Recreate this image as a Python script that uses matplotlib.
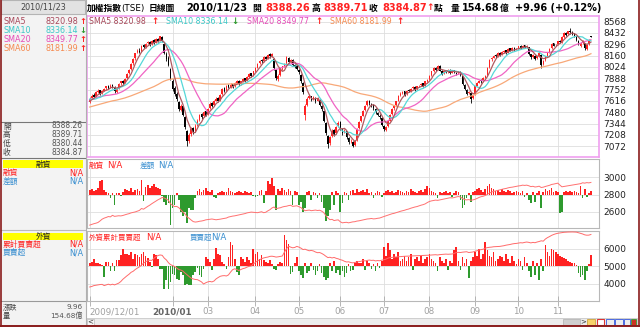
import numpy as np
import pandas as pd
import matplotlib
matplotlib.use('Agg')
import matplotlib.pyplot as plt
from matplotlib.patches import Rectangle

plt.rcParams['font.family'] = ['DejaVu Sans', 'Noto Sans CJK TC']

# ---------------- data ----------------
# closes before 2009/12/01, only used to warm up the moving averages
prior_closes = [7230, 7260, 7210, 7280, 7320, 7300, 7350, 7380, 7360, 7400, 7430, 7410, 7460, 7480, 7450, 7500, 7470, 7420, 7450, 7480,
                7510, 7560, 7590, 7620, 7600, 7650, 7680, 7700, 7720, 7690, 7710, 7680, 7600, 7550, 7520, 7480, 7500, 7540, 7580, 7560, 7520,
                7500, 7470, 7530, 7580, 7620, 7660, 7640, 7700, 7740, 7720, 7680, 7700, 7660, 7620, 7650, 7600, 7580, 7610, 7630]

opens = [
    7600, 7650, 7690, 7670, 7725, 7745, 7705, 7740, 7765, 7795, 7775, 7805, 7780, 7725, 7765, 7825, 7855, 7835, 7885, 7945, 7995, 8065, 8125,
    8200, 8220, 8210, 8285, 8265, 8305, 8325, 8295, 8345, 8315, 8360, 8335, 8380, 8300, 8180, 8130, 8000, 7850, 7770, 7700,
    7600, 7510, 7550, 7420, 7260, 7140, 7220, 7290, 7250, 7330, 7390, 7460, 7430, 7490,
    7460, 7530, 7590, 7570, 7620, 7650, 7630, 7700, 7770, 7750, 7810, 7785, 7815, 7795, 7835, 7855, 7825, 7855, 7885, 7865, 7905, 7945, 7925,
    7975, 8015, 8065, 8105, 8095, 8145, 8125, 8175, 8155, 8120, 7990, 7880, 7930, 8005, 8035, 8070, 8130, 8085, 8105, 8045, 8030,
    7990, 7930, 7830, 7450, 7570, 7650, 7670, 7640, 7650, 7620, 7630, 7560, 7490, 7350, 7200, 7110, 7190, 7270, 7230, 7310,
    7360, 7280, 7240, 7250, 7170, 7130, 7120, 7090, 7150, 7290, 7370, 7440, 7510, 7570, 7620, 7580, 7570, 7520, 7470, 7440, 7410,
    7320, 7270, 7310, 7380, 7460, 7530, 7570, 7620, 7690, 7710, 7730, 7700, 7745, 7735, 7765, 7785, 7755, 7795, 7805, 7825, 7795, 7855,
    7875, 7925, 7975, 8015, 7995, 8035, 7975, 7945, 7975, 7965, 7985, 7955, 7985, 7955, 7945, 7965, 7910, 7810, 7750, 7705, 7710, 7650,
    7700, 7800, 7835, 7865, 7855, 7895, 7930, 8020, 8115, 8135, 8165, 8155, 8195, 8175, 8205, 8225, 8195, 8245, 8225, 8255, 8235,
    8250, 8275, 8255, 8285, 8265, 8260, 8175, 8145, 8160, 8125, 8155, 8170, 8060, 8105, 8155, 8195, 8245, 8305, 8285,
    8300, 8335, 8325, 8385, 8435, 8415, 8455, 8445, 8425, 8395, 8340, 8280, 8305, 8310, 8240, 8295, 8388.26]

highs = [
    7660, 7700, 7705, 7730, 7760, 7750, 7745, 7775, 7800, 7805, 7815, 7820, 7790, 7770, 7830, 7860, 7865, 7890, 7950, 8000, 8070, 8130, 8195,
    8240, 8250, 8290, 8300, 8310, 8340, 8330, 8350, 8360, 8365, 8370, 8400, 8390, 8310, 8200, 8150, 8010, 7880, 7790, 7720,
    7610, 7580, 7560, 7430, 7270, 7230, 7300, 7300, 7340, 7400, 7460, 7470, 7500, 7500,
    7530, 7600, 7600, 7630, 7660, 7660, 7700, 7770, 7780, 7810, 7815, 7825, 7820, 7840, 7870, 7865, 7860, 7890, 7895, 7910, 7950, 7955, 7980,
    8020, 8070, 8110, 8120, 8150, 8155, 8180, 8185, 8195, 8130, 8000, 7940, 8010, 8040, 8070, 8160, 8140, 8120, 8115, 8060, 8040,
    8000, 7940, 7840, 7580, 7660, 7700, 7680, 7680, 7660, 7660, 7640, 7570, 7500, 7360, 7210, 7200, 7280, 7280, 7320, 7370,
    7370, 7290, 7280, 7260, 7180, 7160, 7130, 7150, 7290, 7370, 7440, 7510, 7570, 7630, 7630, 7590, 7580, 7530, 7480, 7460, 7420,
    7330, 7320, 7380, 7460, 7530, 7570, 7620, 7690, 7720, 7740, 7740, 7750, 7760, 7770, 7790, 7790, 7800, 7810, 7830, 7830, 7860, 7880,
    7930, 7980, 8020, 8025, 8050, 8045, 7985, 7980, 7985, 8000, 7995, 7990, 7990, 7965, 7980, 7975, 7920, 7820, 7760, 7740, 7720, 7690,
    7800, 7840, 7870, 7875, 7900, 7930, 8020, 8120, 8140, 8170, 8175, 8200, 8205, 8210, 8230, 8230, 8250, 8255, 8260, 8260, 8250,
    8280, 8285, 8290, 8290, 8285, 8265, 8180, 8180, 8165, 8160, 8200, 8175, 8110, 8160, 8200, 8250, 8310, 8315, 8300,
    8340, 8345, 8390, 8440, 8445, 8460, 8490, 8460, 8430, 8400, 8345, 8320, 8345, 8315, 8300, 8360, 8389.71]

lows = [
    7590, 7640, 7650, 7660, 7710, 7690, 7695, 7730, 7750, 7760, 7765, 7770, 7715, 7710, 7755, 7810, 7820, 7825, 7880, 7935, 7990, 8050, 8110,
    8185, 8190, 8200, 8250, 8255, 8295, 8270, 8285, 8300, 8305, 8320, 8330, 8320, 8180, 8100, 8040, 7870, 7740, 7680, 7620,
    7500, 7490, 7430, 7280, 7080, 7110, 7200, 7220, 7240, 7320, 7380, 7400, 7420, 7430,
    7450, 7520, 7540, 7560, 7610, 7600, 7620, 7690, 7720, 7740, 7765, 7770, 7770, 7785, 7825, 7800, 7810, 7840, 7845, 7855, 7895, 7905, 7915,
    7965, 8005, 8055, 8075, 8085, 8105, 8115, 8135, 8145, 7990, 7870, 7860, 7920, 7990, 8025, 8060, 8070, 8075, 8040, 8010, 7990,
    7940, 7830, 7700, 7390, 7560, 7640, 7610, 7630, 7590, 7610, 7550, 7500, 7360, 7210, 7050, 7090, 7180, 7200, 7220, 7300,
    7270, 7210, 7230, 7160, 7100, 7110, 7060, 7070, 7140, 7280, 7360, 7430, 7500, 7560, 7570, 7540, 7510, 7460, 7430, 7400, 7310,
    7250, 7260, 7300, 7370, 7450, 7510, 7560, 7610, 7680, 7700, 7680, 7690, 7720, 7725, 7755, 7740, 7745, 7785, 7795, 7780, 7785, 7845,
    7865, 7915, 7965, 7980, 7985, 7970, 7930, 7935, 7950, 7955, 7940, 7945, 7950, 7930, 7935, 7920, 7810, 7750, 7690, 7695, 7590, 7640,
    7690, 7790, 7825, 7835, 7845, 7885, 7920, 8010, 8100, 8125, 8135, 8145, 8160, 8165, 8195, 8180, 8185, 8210, 8215, 8220, 8225,
    8240, 8240, 8245, 8250, 8255, 8170, 8120, 8135, 8110, 8115, 8145, 8010, 8050, 8095, 8145, 8185, 8235, 8270, 8275,
    8290, 8310, 8315, 8375, 8400, 8405, 8420, 8410, 8380, 8340, 8290, 8260, 8295, 8230, 8230, 8285, 8380.44]

closes = [
    7640, 7680, 7665, 7720, 7740, 7700, 7735, 7760, 7790, 7770, 7800, 7785, 7730, 7760, 7820, 7850, 7830, 7880, 7940, 7990, 8060, 8120, 8190,
    8210, 8205, 8280, 8260, 8300, 8320, 8290, 8340, 8310, 8355, 8330, 8390, 8330, 8190, 8120, 8050, 7880, 7760, 7700, 7640,
    7520, 7560, 7450, 7300, 7130, 7210, 7280, 7240, 7320, 7380, 7450, 7420, 7480, 7440,
    7520, 7580, 7560, 7610, 7640, 7620, 7690, 7760, 7740, 7800, 7780, 7810, 7790, 7830, 7860, 7820, 7850, 7880, 7860, 7900, 7940, 7920, 7970,
    8010, 8060, 8100, 8090, 8140, 8120, 8170, 8150, 8180, 8010, 7890, 7920, 8000, 8030, 8060, 8140, 8080, 8110, 8050, 8020, 8000,
    7960, 7850, 7720, 7560, 7640, 7680, 7630, 7660, 7610, 7640, 7570, 7520, 7380, 7230, 7100, 7180, 7260, 7220, 7300, 7350,
    7290, 7230, 7260, 7180, 7120, 7140, 7080, 7130, 7280, 7360, 7430, 7500, 7560, 7610, 7590, 7560, 7530, 7480, 7450, 7420, 7330,
    7280, 7300, 7370, 7450, 7520, 7560, 7610, 7680, 7700, 7720, 7690, 7740, 7730, 7760, 7780, 7750, 7790, 7800, 7820, 7790, 7850, 7870,
    7920, 7970, 8010, 7990, 8040, 7980, 7940, 7970, 7960, 7990, 7950, 7980, 7960, 7940, 7970, 7930, 7820, 7760, 7700, 7720, 7640, 7680,
    7790, 7830, 7860, 7850, 7890, 7920, 8010, 8110, 8130, 8160, 8150, 8190, 8170, 8200, 8220, 8190, 8240, 8220, 8250, 8230, 8240,
    8270, 8250, 8280, 8260, 8270, 8180, 8140, 8170, 8120, 8150, 8190, 8050, 8100, 8150, 8190, 8240, 8300, 8280, 8290,
    8330, 8320, 8380, 8430, 8410, 8450, 8440, 8420, 8390, 8350, 8300, 8300, 8330, 8250, 8290, 8350, 8384.87]

# 融資 差額 (bar height, axis units around the 2800 base) and 融資 line
margin_diff = [
    50, 60, 40, 55, 70, 160, 170, 50, 30, 20, -40, 20, -120, 15, 20, -15, 30, 60, 50, 40, 70, 30, 50, 60, 40,
    170, -70, 90, 110, 80, 100, 120, 90, 80, 60, -20, -80, -120, -100, -350, -150, -120, 20, -60, -200, -250, -200, -330, -150, -180, -180, -40,
    40, 60, 30, 50, 80, 40, 30, 50, -30, -40, 20, 30, 40, 25, 30, 80, 40, 30, 20, 30, 40, 30, 20, 40, 30, 20, 30,
    -20, -30, -20, 40, 50, -100, 40, 150, 120, 190, 100, -180, 60, 40, 80, 50, 30, 60, 40, -120, 40, 30,
    -120, -80, -200, -150, 30, 40, -60, 30, 20, -40, 20, -90, -150, -300, -250, -180, 30, -120, 40, 20, -200, -100,
    30, 20, -60, 40, 50, 20, 60, 30, 40, 50, 30, 60, 20, 30, -40, 20, 40, 30, -30, 20, 40, 50, 30, 40, 20, 30, 50, 40,
    30, 20, 40, 30, 60, 40, 30, 20, 40, 50, 30, 60, 100, 80, 40, 30, 20, -40, 30, 20, 30, 40, 20, 30, -30, 20, 40, 30, -60, -150, -120, -40, 20, -80, 30,
    40, 60, 80, 50, 30, 60, 100, 120, 80, 60, 40, 50, 30, 60, 40, 30, 50, 40, 20, 30, 40,
    30, 20, 40, -30, 20, -60, -100, 30, -80, 20, 40, -150, 30, 60, 40, 50, 80, 30, 40,
    30, -210, -200, 30, 40, 30, 40, 30, 40, 30, 20, 100, -40, 60, -30, 20, 40]

margin_bal = [
    2450, 2458, 2466, 2472, 2480, 2498, 2518, 2530, 2538, 2548, 2544, 2562,
    2550, 2553, 2557, 2555, 2560, 2568, 2575, 2581, 2590, 2595, 2601, 2610, 2618,
    2640, 2632, 2648, 2664, 2678, 2695, 2710, 2726, 2740, 2752, 2766, 2760, 2748, 2734, 2695, 2676, 2662, 2664, 2650,
    2625, 2600, 2578, 2545, 2528, 2508, 2490, 2485,
    2488, 2494, 2497, 2502, 2510, 2513, 2516, 2520, 2516, 2511,
    2514, 2518, 2523, 2527, 2531, 2542, 2548, 2553, 2556, 2561, 2567, 2571, 2575, 2582, 2590, 2594, 2599,
    2597, 2594, 2592, 2597, 2603, 2592, 2597,
    2613, 2626, 2646, 2657, 2637, 2644, 2648, 2657, 2663, 2666, 2673, 2677, 2664, 2668, 2671,
    2660, 2650, 2630, 2615, 2618, 2622, 2615, 2619, 2622, 2617, 2620, 2610,
    2593, 2560, 2532, 2512, 2516, 2502, 2507, 2510, 2488, 2476, 2480, 2482, 2476,
    2481, 2487, 2489, 2496, 2499, 2504, 2510, 2513, 2520, 2522, 2526, 2521, 2523, 2528, 2531,
    2540, 2548, 2556, 2565, 2572, 2580, 2585, 2592, 2600, 2608, 2614, 2620, 2628, 2634, 2643, 2650, 2657, 2662, 2670, 2678,
    2684, 2693, 2708, 2720, 2727, 2732, 2736, 2733, 2738, 2742, 2747, 2754, 2758, 2763, 2761, 2765, 2772, 2777, 2771, 2755, 2742, 2738, 2742, 2734, 2738,
    2745, 2755, 2767, 2775, 2780, 2789, 2802, 2817, 2827, 2835, 2841, 2848, 2852, 2860, 2865, 2869, 2876, 2881, 2884, 2889, 2894,
    2898, 2901, 2907, 2904, 2907, 2900, 2890, 2894, 2886, 2889, 2895, 2880, 2884, 2892, 2898, 2905, 2915, 2919, 2925, 2930,
    2908, 2888, 2892, 2896, 2900, 2904, 2909, 2913, 2917, 2920, 2924, 2934, 2930, 2936, 2933, 2938]

# 外資 買賣超 (bar height around the 5000 base) and 外資累計買賣超 line
foreign_net = [
    190, 250, 420, 200, 150, 130, 80, -630, 230, 230, -300, 200, -300, 320, 320, 650, 950, 700, 700, 650, 800, 420, 700, 610, 510, 700, 800, 570, 460, 230, -60, 700, 610, 420, -150, -190,
    -1290, -820, -1290, -910, -440, -530, -720, -820, -340, -530, -1100, -1000, -1100, -1060, -530, -340, -100, -530, -630, -150,
    510, 420, 230, -250, 420, 1030, 700, 610, 230, 100, -150, 510, 1370, 1180, 420, -340, -530, 510, 420, 230, 510, 320, 200, 990, 700, 800, 420, 610, 320, 230, 150, 320, 100, -150, -250, 100, 230, 150, 1750, 1460, 1270, -440, -340, 200, 510,
    -300, -500, -700, 200, -400, -300, 150, -200, -500, -300,
    100, -400, -600, -800, -700, 200, -300, 300, -400, -200, -500, -300,
    -600, -400, 100, -300, -200, 200, 300, 150,
    200, 400, -200, 300, 200, -150, 100, -300, 200, -100, 300,
    1100, 600, 1300, 900, 400, 700, 500, 800, 300,
    400, 600, 300, 500, 700, -200, 400, 500, 300, 600, 200, 400, 500, 700,
    400, 300, 200, -300, 500, 300, 200, 400, -200, 300, 200,
    900, 1100, 300, -200, 500, 200, 400, -700, 300, 500,
    800, 600, 1000, 400, 700, 1400, 900, 600, 500, 800, 300, 400, 600, 500,
    300, 700, 400, 200, 600, 300, 100, 400, 300, -200, 500, 200, -300,
    -600, 300, -500, 200, -800, 400, -300, 1200, 800, 600,
    1000, 900, 800, 700, 600, 500, 450, 400, 300, 250, 200, 150, 80,
    -400, -600, -500, -800, -300, 100, 630]

foreign_cum = [
    3800, 3830, 3880, 3900, 3920, 3940, 3950, 3880, 3920, 3960, 3920, 3960,
    3920, 3970, 4020, 4110, 4240, 4340, 4440, 4530, 4640, 4700, 4800, 4880,
    4950, 5050, 5160, 5240, 5300, 5330, 5320, 5440, 5530, 5600, 5630, 5610,
    5450, 5350, 5190, 5080, 5030, 4970, 4890, 4800, 4770, 4710, 4600, 4500, 4400, 4300, 4260, 4230, 4220, 4160, 4090, 3970, 4040,
    4090, 4120, 4090, 4140, 4260, 4340, 4410, 4440, 4450, 4430, 4490, 4650, 4790, 4840, 4800, 4740, 4800, 4850, 4880, 4940, 4980, 5000,
    5120, 5200, 5300, 5350, 5420, 5460, 5490, 5510, 5550, 5560, 5540, 5510, 5525, 5550, 5570, 5790, 5980, 6130, 6080, 6040, 6060, 6120,
    6080, 6020, 5940, 5960, 5910, 5870, 5890, 5860, 5800, 5760, 5770, 5720, 5650, 5560, 5480, 5500, 5460, 5490, 5440, 5410, 5360, 5330,
    5270, 5230, 5240, 5200, 5180, 5200, 5230, 5250, 5270, 5310, 5290, 5320, 5340, 5320, 5330, 5290, 5310, 5300, 5330,
    5360, 5390, 5450, 5480, 5490, 5510, 5520, 5535, 5540, 5545, 5555, 5560, 5565, 5575, 5570, 5575, 5585, 5590, 5600, 5600, 5605, 5610, 5620,
    5630, 5640, 5645, 5630, 5650, 5660, 5665, 5680, 5670, 5680, 5685, 5720, 5770, 5780, 5770,
    5790, 5800, 5815, 5770, 5785, 5800, 5840, 5870, 5920, 5935, 5960, 6020, 6050, 6070, 6080, 6100, 6105, 6110, 6120,
    6140, 6160, 6190, 6210, 6230, 6260, 6280, 6290, 6310, 6330, 6320, 6350, 6370, 6350, 6320, 6350, 6330, 6370, 6400,
    6440, 6420, 6540, 6620, 6680, 6750, 6800, 6840, 6870, 6890,
    6910, 6925, 6935, 6940, 6945, 6945, 6940, 6935,
    6900, 6860, 6830, 6780, 6760, 6765, 6800]

tick_pos = [0, 40, 57, 80, 101, 121, 142, 164, 186, 207, 226]
tick_labels = ['2009/12/01', '2010/01', '03', '04', '05', '06', '07', '08', '09', '10', '11']
price_ticks = [7072, 7208, 7344, 7480, 7616, 7752, 7888, 8024, 8160, 8296, 8432, 8568]
margin_ticks = [2600, 2800, 3000]
foreign_ticks = [4000, 5000, 6000]

n = len(closes)
for name, s in [('opens', opens), ('highs', highs), ('lows', lows), ('margin_diff', margin_diff),
                ('margin_bal', margin_bal), ('foreign_net', foreign_net), ('foreign_cum', foreign_cum)]:
    assert len(s) == n, (name, len(s), n)

o = np.array(opens, float); h = np.array(highs, float)
l = np.array(lows, float); c = np.array(closes, float)
h = np.maximum(h, np.maximum(o, c)); l = np.minimum(l, np.minimum(o, c))
xs = np.arange(n)

full = pd.Series(prior_closes + closes, dtype=float)
def sma(k):
    return full.rolling(k).mean().to_numpy()[len(prior_closes):]

# ---------------- figure helpers ----------------
W, H = 640, 327
fig = plt.figure(figsize=(W / 100, H / 100), dpi=100)
fig.patch.set_facecolor('white')

def rect(x0, y0, x1, y1):
    return [x0 / W, 1 - y1 / H, (x1 - x0) / W, (y1 - y0) / H]

def txt(x, y, s, **kw):
    kw.setdefault('va', 'center')
    kw.setdefault('ha', 'left')
    fig.text(x / W, 1 - y / H, s, **kw)

def box(x0, y0, x1, y1, fc='none', ec='none', lw=0.8, z=1):
    fig.add_artist(Rectangle((x0 / W, 1 - y1 / H), (x1 - x0) / W, (y1 - y0) / H,
                             transform=fig.transFigure, fc=fc, ec=ec, lw=lw, zorder=z))

def hline(x0, x1, y, color, lw=0.8):
    fig.add_artist(plt.Line2D([x0 / W, x1 / W], [1 - y / H, 1 - y / H], transform=fig.transFigure, color=color, lw=lw))

RED, GREEN, BLUE = '#ff2222', '#2e9a2e', '#3a8fd0'
C5, C10, C20, C60 = '#a8485a', '#3cc8c8', '#e64cb8', '#f58a50'
GRID = '#dedede'

# ---------------- left info panel ----------------
box(0, 0, 86, 327, fc='#f3f3f3')
box(1, 0, 85, 14, fc='#e2e2e2', ec='#b4b4b4')
txt(43, 7, '2010/11/23', ha='center', fontsize=5.8, color='#444444')
sma_rows = [('SMA5', '8320.98', C5, '↑', RED), ('SMA10', '8336.14', C10, '↓', GREEN),
            ('SMA20', '8349.77', C20, '↑', RED), ('SMA60', '8181.99', C60, '↑', RED)]
for k, (lab, val, col, arr, acol) in enumerate(sma_rows):
    y = 21.7 + 8.9 * k
    txt(3, y, lab, fontsize=5.8, color=col)
    txt(78, y, val, ha='right', fontsize=5.8, color=col)
    txt(79, y, arr, fontsize=6, color=acol, fontweight='bold')
hline(1, 85, 121.5, '#777777')
for k, (lab, val) in enumerate([('開', '8388.26'), ('高', '8389.71'), ('低', '8380.44'), ('收', '8384.87')]):
    y = 126 + 8.8 * k
    txt(3, y, lab, fontsize=5.6, color='#444444')
    txt(83, y, val, ha='right', fontsize=5.5, color='#555555')
hline(1, 85, 157.5, '#777777')
box(3, 160, 83, 167.5, fc='#ffff00')
txt(43, 164, '融資', ha='center', fontsize=5.6, color='#222222')
txt(3, 172.7, '融資', fontsize=5.6, color=RED)
txt(83, 172.7, 'N/A', ha='right', fontsize=5.8, color=RED)
txt(3, 181, '差額', fontsize=5.6, color=BLUE)
txt(83, 181, 'N/A', ha='right', fontsize=5.8, color=BLUE)
hline(1, 85, 230, '#bbbbbb')
box(3, 232.5, 83, 240, fc='#ffff00')
txt(43, 236.5, '外資', ha='center', fontsize=5.6, color='#222222')
txt(3, 244.3, '累計買賣超', fontsize=5.6, color=RED)
txt(83, 244.3, 'N/A', ha='right', fontsize=5.8, color=RED)
txt(3, 252.7, '買賣超', fontsize=5.6, color=BLUE)
txt(83, 252.7, 'N/A', ha='right', fontsize=5.8, color=BLUE)
hline(1, 85, 301, '#999999')
txt(3, 307.3, '漲跌', fontsize=5.2, color='#444444')
txt(83, 307.3, '9.96', ha='right', fontsize=5.2, color='#555555')
txt(3, 315.3, '量', fontsize=5.2, color='#444444')
txt(83, 315.3, '154.68億', ha='right', fontsize=5.2, color='#555555')
fig.add_artist(plt.Line2D([86 / W, 86 / W], [0, 1], transform=fig.transFigure, color='#b0b0b0', lw=0.8))

# ---------------- title line ----------------
title_parts = [(87, '加權指數', 'black', 6.3, 'bold'), (121, '(TSE)', 'black', 6.3, 'normal'),
               (149, '日線圖', 'black', 6.3, 'bold'),
               (186, '2010/11/23', 'black', 7, 'bold'), (252, '開', 'black', 6.3, 'bold'), (265, '8388.26', RED, 7, 'bold'),
               (311, '高', 'black', 6.3, 'bold'), (323, '8389.71', RED, 7, 'bold'), (369, '收', 'black', 6.3, 'bold'),
               (382, '8384.87', RED, 7, 'bold'), (426, '↑', RED, 6.5, 'bold'), (434, '點', 'black', 6.3, 'bold'),
               (451, '量', 'black', 6.3, 'bold'), (462, '154.68', 'black', 7, 'bold'), (500, '億', 'black', 6.3, 'bold'),
               (515, '+9.96 (+0.12%)', 'black', 7, 'bold')]
for x, s, col, fs, fw in title_parts:
    txt(x, 8, s, fontsize=fs, fontweight=fw, color=col)

# ---------------- main candle chart ----------------
XL = (-1.3, 245.9)
ax = fig.add_axes(rect(87, 16, 599, 157))
ax.set_xlim(*XL)
ax.set_ylim(6942, 8634)
for t in price_ticks:
    ax.axhline(t, color=GRID, lw=0.6, zorder=0)
for t in tick_pos:
    ax.axvline(t, color=GRID, lw=0.6, zorder=0)
up = c >= o
cols = np.where(up, RED, '#000000')
ax.vlines(xs, l, h, colors=cols, lw=0.6, zorder=2)
ax.bar(xs, np.maximum(np.abs(c - o), 3), bottom=np.minimum(o, c), width=0.75, color=cols, lw=0, zorder=3)
ax.plot(xs, sma(60), color='#f8a878', lw=0.9, zorder=4)
ax.plot(xs, sma(20), color='#f064c4', lw=0.9, zorder=4)
ax.plot(xs, sma(10), color='#55d8d8', lw=0.9, zorder=4)
ax.plot(xs, sma(5), color='#b05a60', lw=0.9, zorder=4)
ax.yaxis.tick_right()
ax.set_yticks(price_ticks)
ax.set_yticklabels([str(t) for t in price_ticks])
ax.set_xticks([])
ax.tick_params(axis='y', length=0, pad=3, labelsize=6.5, labelcolor='#222222')
for sp in ax.spines.values():
    sp.set_color('#f0a0f0')
    sp.set_linewidth(1.2)
legend_parts = [(89, 'SMA5 8320.98', C5), (151, '↑', RED), (166, 'SMA10 8336.14', C10), (231, '↓', GREEN),
                (247, 'SMA20 8349.77', C20), (315, '↑', RED), (330, 'SMA60 8181.99', C60), (396, '↑', RED)]
for x, s, col in legend_parts:
    arrow = s in ('↑', '↓')
    txt(x, 22, s, fontsize=6.2 if arrow else 5.7, color=col, fontweight='bold' if arrow else 'normal')

# ---------------- 融資 panel ----------------
ax2 = fig.add_axes(rect(87, 159, 599, 228))
ax2.set_xlim(*XL)
ax2.set_ylim(2417, 3206)
for t in margin_ticks:
    ax2.axhline(t, color=GRID, lw=0.6, zorder=0)
for t in tick_pos:
    ax2.axvline(t, color=GRID, lw=0.6, zorder=0)
md = np.array(margin_diff, float)
ax2.bar(xs, md, bottom=2800, width=0.8, color=np.where(md >= 0, RED, GREEN), lw=0, zorder=2)
ax2.plot(xs, margin_bal, color='#ff7070', lw=0.7, zorder=3)
ax2.yaxis.tick_right()
ax2.set_yticks(margin_ticks)
ax2.set_yticklabels([str(t) for t in margin_ticks])
ax2.set_xticks([])
ax2.tick_params(axis='y', length=0, pad=3, labelsize=6.5, labelcolor='#222222')
for sp in ax2.spines.values():
    sp.set_color('#b8b8b8')
txt(89, 165, '融資', fontsize=5.5, color=RED)
txt(107, 165, 'N/A', fontsize=6.2, color=RED)
txt(140, 165, '差額', fontsize=5.5, color=BLUE)
txt(158, 165, 'N/A', fontsize=6.2, color=BLUE)

# ---------------- 外資 panel ----------------
ax3 = fig.add_axes(rect(87, 231, 599, 301))
ax3.set_xlim(*XL)
ax3.set_ylim(3000, 7000)
for t in foreign_ticks:
    ax3.axhline(t, color=GRID, lw=0.6, zorder=0)
for t in tick_pos:
    ax3.axvline(t, color=GRID, lw=0.6, zorder=0)
fn = np.array(foreign_net, float)
ax3.bar(xs, fn, bottom=5000, width=0.8, color=np.where(fn >= 0, RED, GREEN), lw=0, zorder=2)
ax3.plot(xs, foreign_cum, color='#ff6a6a', lw=0.7, zorder=3)
ax3.yaxis.tick_right()
ax3.set_yticks(foreign_ticks)
ax3.set_yticklabels([str(t) for t in foreign_ticks])
ax3.tick_params(axis='y', length=0, pad=3, labelsize=6.5, labelcolor='#222222')
ax3.set_xticks(tick_pos)
ax3.set_xticklabels(tick_labels)
ax3.tick_params(axis='x', direction='inout', length=7, width=0.6, color='#aaaaaa',
                labelsize=6.3, labelcolor='#a0a0a0', pad=1)
lbls = ax3.get_xticklabels()
lbls[0].set_ha('left')
lbls[1].set_fontweight('bold')
lbls[1].set_color('#666666')
for sp in ax3.spines.values():
    sp.set_color('#b8b8b8')
txt(89, 237, '外資累計買賣超', fontsize=5.4, color=RED)
txt(146, 237, 'N/A', fontsize=6.2, color=RED)
txt(190, 237, '買賣超', fontsize=5.4, color=BLUE)
txt(211, 237, 'N/A', fontsize=6.2, color=BLUE)

# ---------------- scroll bar / frame ----------------
box(86, 318, 637, 325, fc='#ececec', ec='#c8c8c8', lw=0.6)
box(87, 318.5, 94, 324.5, fc='#f6f6f6', ec='#bbbbbb', lw=0.5)
txt(90.5, 321.5, '<', ha='center', fontsize=5, color='#333333')
box(563, 318.5, 580, 324.5, fc='#cfcfcf', ec='#b0b0b0', lw=0.5)
txt(583, 321.5, '>', ha='center', fontsize=5, color='#333333')
box(587, 318.5, 595, 324.5, fc='#f7d26a', ec='#c79a2a', lw=0.5)
box(597, 318.5, 604, 324.5, fc='#ffffff', ec='#dd3333', lw=0.8)
box(606, 318.5, 614, 324.5, fc='none', ec='#3355dd', lw=0.6)
box(615, 318.5, 623, 324.5, fc='none', ec='#3355dd', lw=0.6)
box(624, 318.5, 630, 324.5, fc='none', ec='#3355dd', lw=0.6)
box(631, 318.5, 636, 324.5, fc='#cc3322', ec='#339933', lw=0.6)
fig.add_artist(plt.Line2D([0.5 / W, 0.5 / W], [0, 1], transform=fig.transFigure, color='#8a1c1c', lw=1.2))
fig.add_artist(plt.Line2D([638.5 / W, 638.5 / W], [0, 1], transform=fig.transFigure, color='#8a1c1c', lw=1.2))
fig.add_artist(plt.Line2D([0, 1], [1 - 326 / H, 1 - 326 / H], transform=fig.transFigure, color='#8a1c1c', lw=1.4))

fig.savefig('out.png', dpi=100)
